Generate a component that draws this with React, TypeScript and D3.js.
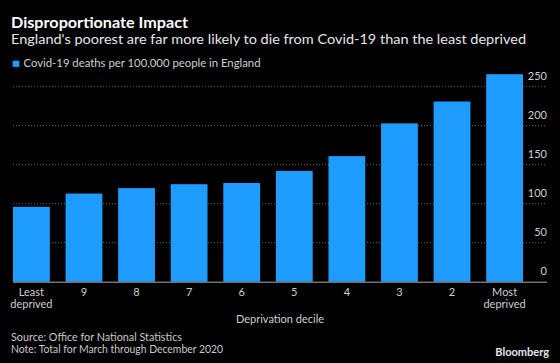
import React from "react";
import * as d3 from "d3";

// Deprivation deciles, least deprived on the left
const deciles = ["Least deprived", "9", "8", "7", "6", "5", "4", "3", "2", "Most deprived"];
// Covid-19 deaths per 100,000 people in England
const deaths = [96, 113, 120, 125, 126.5, 142, 161, 203, 231, 266];
const yTicks = [0, 50, 100, 150, 200, 250];

const W = 560;
const H = 363;
const FONT = "Lato, 'Open Sans', sans-serif";
const BLUE = "#1f9cff";

const App = () => {
  const x = d3.scaleBand<string>().domain(deciles).range([13, 523]).paddingInner(0.3).paddingOuter(0);
  const y = d3.scaleLinear().domain([0, 250]).range([281.7, 86.7]);

  return (
    <div style={{ position: "absolute", left: 0, top: 0, width: W, height: H, background: "#000" }}>
      <svg width={W} height={H} style={{ display: "block", fontFamily: FONT }}>
        <rect width={W} height={H} fill="#000" />

        {/* titles */}
        <text x={11} y={28} fill="#fff" fontSize={14.5} fontWeight={700} textLength={177} lengthAdjust="spacingAndGlyphs">
          Disproportionate Impact
        </text>
        <text x={11} y={43.5} fill="#e6e6e6" fontSize={14} textLength={515} lengthAdjust="spacingAndGlyphs">
          England's poorest are far more likely to die from Covid-19 than the least deprived
        </text>

        {/* legend */}
        <rect x={12.7} y={60.7} width={6.6} height={6.2} fill={BLUE} />
        <text x={23.5} y={66.8} fill="#d0d0d0" fontSize={11} textLength={237} lengthAdjust="spacingAndGlyphs">
          Covid-19 deaths per 100,000 people in England
        </text>

        {/* gridlines */}
        {yTicks.filter((t) => t > 0).map((t) => (
          <line key={t} x1={13} x2={547} y1={y(t)} y2={y(t)} stroke="#6a6a6a" strokeWidth={1} strokeDasharray="1,2" />
        ))}

        {/* bars */}
        {deciles.map((d, i) => (
          <rect key={d} x={x(d)} y={y(deaths[i])} width={x.bandwidth()} height={y(0) - y(deaths[i])} fill={BLUE} />
        ))}

        {/* y tick labels */}
        {yTicks.map((t) => (
          <text key={t} x={547} y={y(t) - 7} fill="#cfcfcf" fontSize={11} textAnchor="end">
            {t}
          </text>
        ))}

        {/* baseline */}
        <line x1={13} x2={547} y1={y(0) + 0.5} y2={y(0) + 0.5} stroke="#aaa" strokeWidth={1} />

        {/* x labels */}
        {deciles.map((d) => {
          const cx = (x(d) ?? 0) + x.bandwidth() / 2;
          const parts = d.split(" ");
          return (
            <text key={d} x={cx} y={295.5} fill="#cfcfcf" fontSize={11} textAnchor="middle">
              {parts.map((p, j) => (
                <tspan key={j} x={cx} dy={j === 0 ? 0 : 12.5}>
                  {p}
                </tspan>
              ))}
            </text>
          );
        })}
        <text x={280} y={323} fill="#cfcfcf" fontSize={11} textAnchor="middle">
          Deprivation decile
        </text>

        {/* footer */}
        <text x={11} y={341} fill="#c8c8c8" fontSize={10.5} textLength={171} lengthAdjust="spacingAndGlyphs">
          Source: Office for National Statistics
        </text>
        <text x={11} y={352.5} fill="#c8c8c8" fontSize={10.5} textLength={212} lengthAdjust="spacingAndGlyphs">
          Note: Total for March through December 2020
        </text>
        <text x={549} y={356} fill="#e8e8e8" fontSize={11} fontWeight={700} textAnchor="end">
          Bloomberg
        </text>
      </svg>
    </div>
  );
};

export default App;
